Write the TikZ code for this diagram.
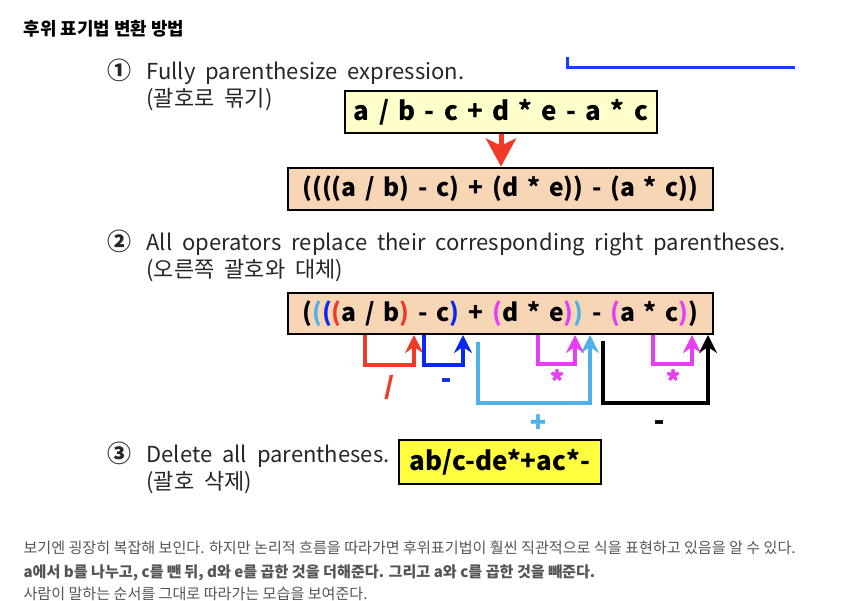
\documentclass[tikz,border=0pt]{standalone}
\usepackage{fontspec}
\setmainfont{Noto Sans CJK KR}
\newfontfamily\opfont{Noto Sans CJK KR}[BoldFeatures={FakeBold=2}]
\usetikzlibrary{arrows.meta}

\newcommand\stepspacing{\spaceskip=10pt plus 2pt minus 1pt\relax}
\newcommand\boxspacing{\spaceskip=9.3pt plus 2pt minus 1pt\relax}
\newcommand\parenspacing{\spaceskip=8.8pt plus 2pt minus 1pt\relax}

\definecolor{opred}{HTML}{EE3A26}
\definecolor{opblue}{HTML}{0A28F0}
\definecolor{opsky}{HTML}{4CB2E8}
\definecolor{oppink}{HTML}{E63FF2}
\definecolor{peach}{HTML}{F7D6B6}
\definecolor{paleyellow}{HTML}{FFFFCC}
\definecolor{hiyellow}{HTML}{FFFF40}
\definecolor{topblue}{HTML}{1A3CFF}
\definecolor{bodygray}{HTML}{555555}

\tikzset{
  titletext/.style={anchor=base west,font=\fontsize{17.9}{20}\selectfont\bfseries},
  stepnum/.style={anchor=base,font=\fontsize{24}{26}\selectfont\bfseries,text=black!85},
  stepline/.style={anchor=base west,font=\fontsize{22}{26}\selectfont\stepspacing,text=black!85},
  exprbox/.style={draw,line width=2.8pt,inner sep=0pt,minimum height=42pt,
    font=\fontsize{26}{28}\selectfont\bfseries\boxspacing},
  parenbox/.style={exprbox,fill=peach,minimum width=425pt,
    font=\fontsize{24.6}{28}\selectfont\bfseries\parenspacing},
  bigarrow/.style={line width=5pt,opred,-{Stealth[length=28pt,width=30pt,inset=7pt]}},
  bracket/.style={line width=3.5pt,-{Stealth[length=18pt,width=18pt,inset=6pt]}},
  oplabel/.style={font=\opfont\fontsize{26}{26}\selectfont\bfseries},
  bodytext/.style={anchor=base west,font=\fontsize{15.1}{16}\selectfont,text=bodygray}
}

\begin{document}
\begin{tikzpicture}[x=1pt,y=-1pt]
  \useasboundingbox (0,0) rectangle (862,601);
  \node[titletext] (title) at (20,36) {후위 표기법 변환 방법};
  \draw[line width=3pt,topblue] (567,57) |- (795,68);

  % step 1
  \node[stepnum] (num1) at (119,80) {①};
  \node[stepline] (step1) at (143,80) {Fully parenthesize expression.};
  \node[stepline] (step1kr) at (143,107) {(괄호로 묶기)};
  \node[exprbox,fill=paleyellow,minimum width=312pt] (infix) at (501,112) {a / b - c + d * e - a * c};
  \node[parenbox] (paren) at (500.5,189) {((((a / b) - c) + (d * e)) - (a * c))};
  \draw[bigarrow] (infix.south) -- (infix.south |- paren.north);

  % step 2
  \node[stepnum] (num2) at (119,251) {②};
  \node[stepline] (step2) at (143,251) {All operators replace their corresponding right parentheses.};
  \node[stepline] (step2kr) at (143,278) {(오른쪽 괄호와 대체)};
  \node[parenbox,minimum height=41pt] (paren2) at (500.5,313.5)
    {(\textcolor{opsky}{(}\textcolor{opblue}{(}\textcolor{opred}{(}a / b\textcolor{opred}{)} - c\textcolor{opblue}{)} + \textcolor{oppink}{(}d * e\textcolor{oppink}{)}\textcolor{opsky}{)} - \textcolor{oppink}{(}a * c\textcolor{oppink}{)})};

  \coordinate (divL) at (365,335);  \coordinate (divR) at (414,335);
  \coordinate (subL) at (424,335);  \coordinate (subR) at (463,335);
  \coordinate (addL) at (478,342);  \coordinate (addR) at (590,335);
  \coordinate (mulL) at (538,335);  \coordinate (mulR) at (575,335);
  \coordinate (minL) at (603,341);  \coordinate (minR) at (708,335);
  \coordinate (acL) at (653,335);   \coordinate (acR) at (692,335);
  \draw[bracket,opred] (divL) -- (divL |- 0,365) -| (divR);
  \draw[bracket,opblue] (subL) -- (subL |- 0,365) -| (subR);
  \draw[bracket,opsky] (addL) -- (addL |- 0,403) -| (addR);
  \draw[bracket,oppink] (mulL) -- (mulL |- 0,364) -| (mulR);
  \draw[bracket,black] (minL) -- (minL |- 0,403) -| (minR);
  \draw[bracket,oppink] (acL) -- (acL |- 0,364) -| (acR);
  \node[oplabel,text=opred,font=\opfont\fontsize{24}{24}\selectfont\bfseries] (divop) at (389,387) {/};
  \node[oplabel,text=opblue] (subop) at (446,383) {-};
  \node[oplabel,text=opsky] (addop) at (538,423) {+};
  \node[oplabel,text=oppink] (mulop) at (557,380) {*};
  \node[oplabel,text=black] (minop) at (659,425) {-};
  \node[oplabel,text=oppink] (acop) at (673,380) {*};

  % step 3
  \node[stepnum] (num3) at (119,462) {③};
  \node[stepline] (step3) at (143,462) {Delete all parentheses.};
  \node[stepline] (step3kr) at (143,489) {(괄호 삭제)};
  \node[exprbox,fill=hiyellow,minimum width=202pt,minimum height=44pt] (postfix) at (500,462) {ab/c-de*+ac*-};

  % notes
  \node[bodytext] (note1) at (20,553) {보기엔 굉장히 복잡해 보인다. 하지만 논리적 흐름을 따라가면 후위표기법이 훨씬 직관적으로 식을 표현하고 있음을 알 수 있다.};
  \node[bodytext,font=\fontsize{15.1}{16}\selectfont\bfseries] (note2) at (20,577) {a에서 b를 나누고, c를 뺀 뒤, d와 e를 곱한 것을 더해준다. 그리고 a와 c를 곱한 것을 빼준다.};
  \node[bodytext] (note3) at (20,599) {사람이 말하는 순서를 그대로 따라가는 모습을 보여준다.};
\end{tikzpicture}
\end{document}
